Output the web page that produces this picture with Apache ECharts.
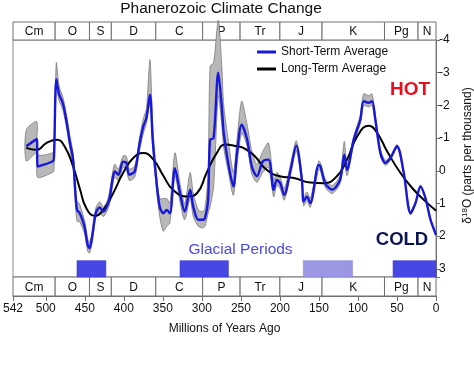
<!DOCTYPE html>
<html><head><meta charset="utf-8">
<script src="https://cdn.jsdelivr.net/npm/echarts@6/dist/echarts.min.js"></script>
<style>html,body{margin:0;padding:0;background:#fff}#c{width:474px;height:386px}</style>
</head><body><div id="c"></div>
<script>
// ---- Data ----
const periodNames = ['Cm','O','S','D','C','P','Tr','J','K','Pg','N'];
const periodBounds = [542,488,444,416,359,299,251,200,146,66,23,0];

const glacialStart = [460, 328, 170, 55];
const glacialEnd   = [423, 266, 107, 0];
const glacialLight = [false, false, true, false];

const xTickLabels = [542,500,450,400,350,300,250,200,150,100,50,0];
const yTickLabels = [-4,-3,-2,-1,0,1,2,3];

// Short-term average (Myr ago, delta 18O) and its uncertainty band
const stAge  = [525,511.5,510.5,491,489.5,486.5,483,478,473,469,465,462,460,457,453,450,446.5,444,440.5,436,431,426,421,418,414,411.5,407,401,397,393,386,380,375,371,366.5,363,358,354,349.5,345,341,334.5,328,322,315,311,304.5,299,296,292,289.5,285,279,274.5,272,266,259.6,255,249,242,236,229.5,221.8,214.5,208,204,199.6,194.5,186.8,179,171.8,169.7,165.4,161,150.4,148,142,133,123,117.5,114,105.5,97,92.7,86.3,82,77.7,71.2,64.8,58.4,49.8,41.3,32.7,26.3,19.9,13.5,7,0];
const stMean = [-0.75,-0.97,-0.13,-0.29,-0.40,-2.80,-2.35,-2.05,-1.45,-0.85,-0.35,0.70,1.20,1.28,1.50,1.75,2.25,2.37,2.00,1.30,1.12,1.25,1.05,0.80,0.20,0.02,0.12,-0.28,-0.25,0.12,0.02,-0.80,-1.36,-1.62,-2.33,-0.95,0.38,1.10,1.30,1.20,1.30,-0.08,0.68,1.25,0.58,1.10,1.50,1.50,1.45,0.90,-0.95,-1.00,-3.00,-1.97,-1.16,-0.20,0.48,-0.54,-1.41,-0.95,-0.13,0.17,-0.29,-0.34,0.58,0.28,0.38,0.74,0.02,-0.77,0.28,0.94,0.79,0.99,-0.18,-0.13,0.38,0.58,0.28,-0.49,-0.03,-0.95,-1.56,-2.13,-2.08,-2.13,-1.56,-0.54,-0.24,-0.39,-0.75,0.07,1.30,0.99,0.48,0.84,1.50,1.96];
const stLow  = [-1.25,-1.50,-0.50,-0.55,-0.70,-3.30,-2.60,-2.25,-1.65,-1.05,-0.55,0.45,0.95,1.00,1.30,1.55,2.05,2.20,1.85,1.15,0.95,1.10,0.90,0.60,0.00,-0.20,-0.05,-0.45,-0.45,-0.05,-0.15,-1.00,-1.60,-1.90,-3.40,-1.40,0.15,0.85,0.85,0.85,1.00,-0.55,0.40,1.00,0.05,0.70,1.20,1.25,1.15,0.10,-3.20,-3.30,-4.60,-3.20,-2.00,-0.90,0.05,-0.95,-2.13,-1.40,-0.60,-0.20,-0.60,-0.85,0.30,0.05,0.20,0.55,-0.15,-0.92,0.12,0.80,0.65,0.85,-0.30,-0.25,0.25,0.45,0.15,-0.90,-0.20,-1.05,-1.70,-2.35,-2.30,-2.35,-1.70,-0.65,-0.32,-0.45,-0.80,0.02,1.26,0.95,0.44,0.80,1.46,1.92];
const stHigh = [-0.30,-0.55,0.20,0.05,0.00,-2.55,-2.15,-1.85,-1.25,-0.65,-0.10,1.00,1.55,1.55,1.75,1.95,2.45,2.52,2.20,1.45,1.30,1.40,1.20,1.00,0.40,0.20,0.30,-0.10,-0.05,0.30,0.20,-0.60,-1.15,-1.45,-2.10,-0.75,0.60,1.40,1.85,1.70,1.60,0.15,0.95,1.50,0.85,1.40,1.70,1.75,1.70,1.30,1.10,0.50,-2.30,-1.40,-0.70,0.05,0.75,-0.20,-1.15,-0.75,0.10,0.35,0.05,-0.10,0.80,0.45,0.55,0.90,0.18,-0.60,0.42,1.08,0.92,1.12,-0.05,0.00,0.50,0.70,0.40,-0.30,0.15,-0.80,-1.45,-2.00,-1.95,-2.00,-1.45,-0.45,-0.16,-0.33,-0.70,0.12,1.34,1.03,0.52,0.88,1.54,2.00];

// Long-term average
const ltAge  = [525,512,499,486,476,465,456,448,437,426.5,413.5,401,388,375,362,349,337,319,306,294,281,270,255,247,234,217,200,182,161,144,127,114,101,86,75.5,62.5,45.5,28.5,11,0];
const ltMean = [-0.70,-0.64,-0.85,-0.95,-0.75,-0.13,0.58,1.15,1.38,1.20,0.68,0.07,-0.39,-0.54,-0.34,0.17,0.58,0.79,0.68,0.07,-0.54,-0.80,-0.75,-0.70,-0.49,-0.03,0.17,0.22,0.36,0.38,0.17,-0.34,-1.05,-1.38,-1.16,-0.59,0.07,0.58,0.99,1.22];

// ---- Chart ----
const FONT = '"Liberation Sans", Arial, sans-serif';
const chart = echarts.init(document.getElementById('c'));

function stripItem(params, api) {
  const x0 = api.value(0), x1 = api.value(1), idx = api.value(2);
  const p0 = api.coord([x0, 1]), p1 = api.coord([x1, 0]);
  return {type: 'group', children: [
    {type: 'rect', shape: {x: p0[0], y: p0[1], width: p1[0] - p0[0], height: p1[1] - p0[1]},
     style: {fill: '#fff', stroke: '#707070', lineWidth: 1}},
    {type: 'text', style: {text: periodNames[idx], x: (p0[0] + p1[0]) / 2, y: (p0[1] + p1[1]) / 2 + 1,
      align: 'center', verticalAlign: 'middle', fontSize: 12, fontFamily: FONT, fill: '#111'}}
  ]};
}
const stripData = periodNames.map((n, i) => [periodBounds[i], periodBounds[i + 1], i]);

const option = {
  animation: false,
  backgroundColor: '#fff',
  grid: [
    {left: 13, right: 38, top: 40, height: 237, show: true, borderColor: '#8a8a8a', borderWidth: 1, outerBoundsMode: 'none', containLabel: false},
    {left: 13, right: 38, top: 22, height: 18, outerBoundsMode: 'none', containLabel: false},
    {left: 13, right: 38, top: 277, height: 19, outerBoundsMode: 'none', containLabel: false}
  ],
  xAxis: [
    {gridIndex: 0, type: 'value', min: 0, max: 542, inverse: true, show: false},
    {gridIndex: 1, type: 'value', min: 0, max: 542, inverse: true, show: false},
    {gridIndex: 2, type: 'value', min: 0, max: 542, inverse: true, interval: 50,
     axisLine: {show: true, lineStyle: {color: '#707070'}},
     axisTick: {show: true, length: 5, lineStyle: {color: '#707070'}},
     axisLabel: {fontSize: 12, fontFamily: FONT, color: '#111', margin: 7,
       formatter: v => xTickLabels.indexOf(Math.round(v)) >= 0 ? String(Math.round(v)) : ''},
     splitLine: {show: false},
     name: 'Millions of Years Ago', nameLocation: 'middle', nameGap: 27,
     nameTextStyle: {fontSize: 12, fontFamily: FONT, color: '#111'}}
  ],
  yAxis: [
    {gridIndex: 0, type: 'value', position: 'right', inverse: true, min: -4, max: 3.25, interval: 1,
     axisLine: {show: true, lineStyle: {color: '#707070'}},
     axisTick: {show: true, length: 4, lineStyle: {color: '#707070'}},
     axisLabel: {fontSize: 12, fontFamily: FONT, color: '#111', margin: 3,
       formatter: v => yTickLabels.indexOf(v) >= 0 ? String(v) : ''},
     splitLine: {show: false},
     name: '{d|δ}{s|18}{d|O (parts per thousand)}', nameLocation: 'middle', nameRotate: 90, nameGap: 16,
     nameTextStyle: {fontSize: 12, fontFamily: FONT, color: '#111', padding: [0, 0, 0, 6],
       rich: {d: {fontSize: 12, fontFamily: FONT, color: '#111', lineHeight: 14},
              s: {fontSize: 8, fontFamily: FONT, color: '#111', verticalAlign: 'top', lineHeight: 9}}}},
    {gridIndex: 1, type: 'value', min: 0, max: 1, show: false},
    {gridIndex: 2, type: 'value', min: 0, max: 1, show: false}
  ],
  legend: {
    orient: 'vertical', left: 257, top: 45, padding: 0, itemGap: 3,
    itemWidth: 19, itemHeight: 3, icon: 'rect',
    textStyle: {fontSize: 12, fontFamily: FONT, color: '#111', lineHeight: 14},
    data: ['Short-Term Average', 'Long-Term Average']
  },
  graphic: [
    {type: 'text', x: 221, y: 9, style: {text: 'Phanerozoic Climate Change', align: 'center', verticalAlign: 'middle',
      fontSize: 15.5, fontFamily: FONT, fill: '#111'}},
    {type: 'text', x: 410, y: 90, style: {text: 'HOT', align: 'center', verticalAlign: 'middle',
      fontSize: 19, fontWeight: 'bold', fontFamily: FONT, fill: '#e8101c'}},
    {type: 'text', x: 402, y: 240, style: {text: 'COLD', align: 'center', verticalAlign: 'middle',
      fontSize: 18.5, fontWeight: 'bold', fontFamily: FONT, fill: '#0b1554'}},
    {type: 'text', x: 240.5, y: 250, style: {text: 'Glacial Periods', align: 'center', verticalAlign: 'middle',
      fontSize: 15.5, fontFamily: FONT, fill: '#4a4ae4'}}
  ],
  series: [
    {type: 'custom', xAxisIndex: 1, yAxisIndex: 1, z: 1, data: stripData, renderItem: stripItem, silent: true},
    {type: 'custom', xAxisIndex: 2, yAxisIndex: 2, z: 1, data: stripData, renderItem: stripItem, silent: true},
    {type: 'custom', xAxisIndex: 0, yAxisIndex: 0, z: 2, silent: true,
     data: glacialStart.map((s, i) => [s, glacialEnd[i], i]),
     renderItem: function (params, api) {
       const i = api.value(2);
       const p0 = api.coord([api.value(0), 2.75]), p1 = api.coord([api.value(1), 3.25]);
       return {type: 'rect', shape: {x: p0[0], y: p0[1], width: p1[0] - p0[0], height: p1[1] - p0[1]},
         style: {fill: glacialLight[i] ? '#9b97e3' : '#4747e3', stroke: glacialLight[i] ? '#8c88d8' : '#3b3bd0', lineWidth: 0.6}};
     }},
    {type: 'custom', xAxisIndex: 0, yAxisIndex: 0, z: 3, silent: true, data: [[0, 0]],
     renderItem: function (params, api) {
       const top = stAge.map((a, i) => api.coord([a, stLow[i]]));
       const bot = stAge.map((a, i) => api.coord([a, stHigh[i]])).reverse();
       return {type: 'polygon', shape: {points: top.concat(bot), smooth: 0.25},
         style: {fill: '#b8b8b8', stroke: '#7a7a7a', lineWidth: 0.8}};
     }},
    {name: 'Long-Term Average', type: 'line', xAxisIndex: 0, yAxisIndex: 0, z: 4,
     data: ltAge.map((a, i) => [a, ltMean[i]]), smooth: 0.5, symbol: 'none',
     lineStyle: {color: '#000', width: 2}, itemStyle: {color: '#000'}},
    {name: 'Short-Term Average', type: 'line', xAxisIndex: 0, yAxisIndex: 0, z: 5,
     data: stAge.map((a, i) => [a, stMean[i]]), smooth: 0.3, symbol: 'none',
     lineStyle: {color: '#1818dc', width: 2.4}, itemStyle: {color: '#1818dc'}}
  ]
};
chart.setOption(option);
</script>
</body></html>
